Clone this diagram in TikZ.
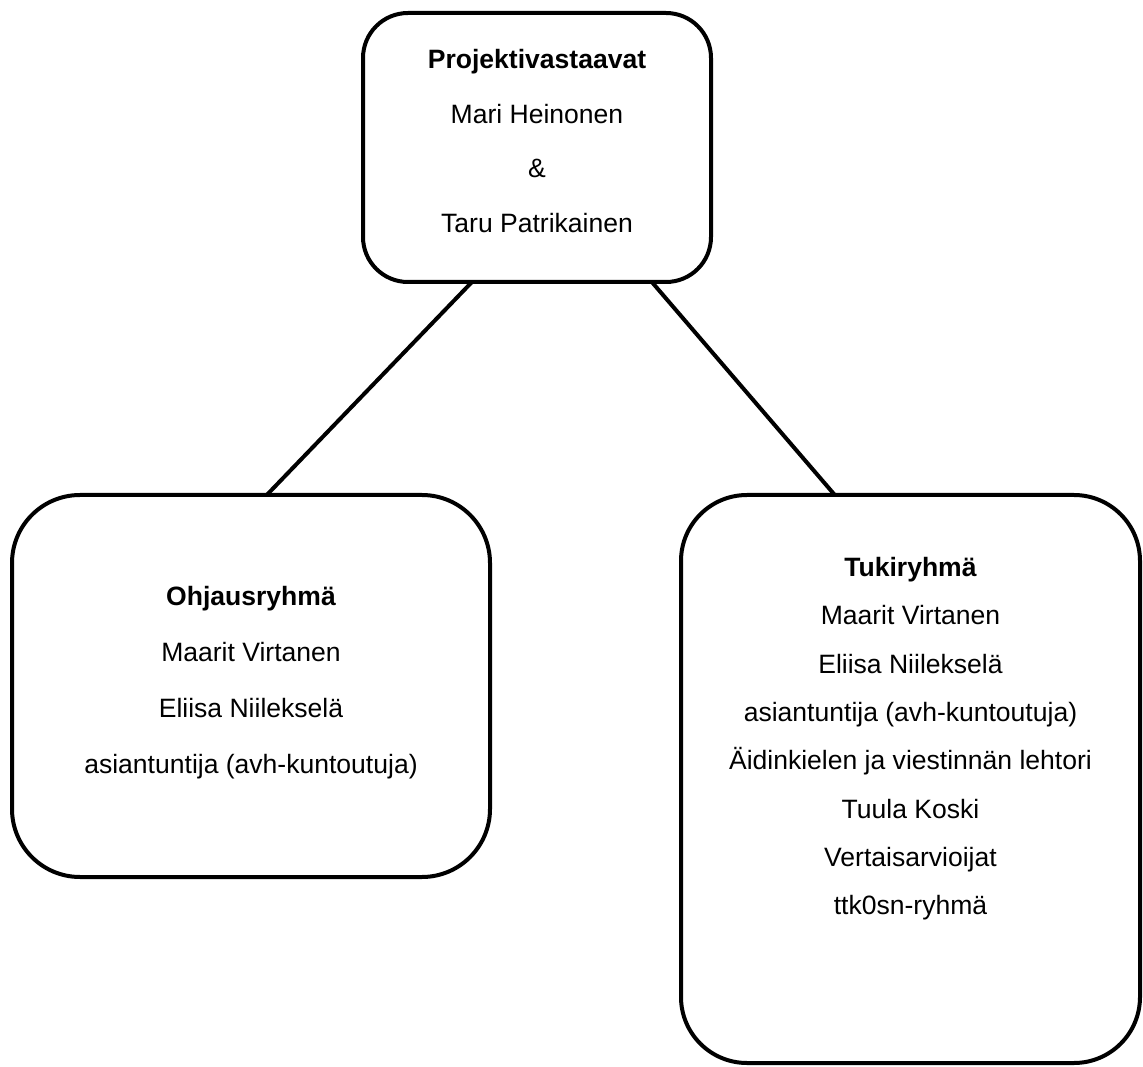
\documentclass[tikz,border=0pt]{standalone}
\usepackage{fontspec}
\setmainfont{Liberation Sans}
\usetikzlibrary{calc}
\tikzset{
	box/.style={draw, line width=0.08cm, rounded corners=#1, outer sep=0pt, inner sep=0pt},
	box/.default=0.9cm,
	names/.style={align=center, inner sep=0pt, anchor=north, font=\fontsize{15.1}{#1}\selectfont},
	link/.style={line width=0.08cm}
}

\begin{document}
\begin{tikzpicture}
	\useasboundingbox (0,0) rectangle (22.86,21.32);
	\node[box, minimum width=6.96cm, minimum height=5.38cm] (proj) at (10.74,18.37) {};
	\node[box=1.36cm, minimum width=9.56cm, minimum height=7.64cm] (ohj) at (5.02,7.60) {};
	\node[box=1.32cm, minimum width=9.18cm, minimum height=11.36cm] (tuki) at (18.21,5.74) {};
	\node[names=31pt] (projnimet) at (10.74,20.34) {\textbf{Projektivastaavat}\\Mari Heinonen\\\&\\Taru Patrikainen};
	\node[names=31.9pt] (ohjnimet) at (5.02,9.60) {\textbf{Ohjausryhmä}\\Maarit Virtanen\\Eliisa Niilekselä\\asiantuntija (avh-kuntoutuja)};
	\node[names=27.5pt] (tukinimet) at (18.21,10.18) {\textbf{Tukiryhmä}\\Maarit Virtanen\\Eliisa Niilekselä\\asiantuntija (avh-kuntoutuja)\\Äidinkielen ja viestinnän lehtori\\Tuula Koski\\Vertaisarvioijat\\ttk0sn-ryhmä};
	\draw[link] ($(proj.south west)!0.313!(proj.south east)$) -- ($(ohj.north west)!0.533!(ohj.north east)$);
	\draw[link] ($(proj.south west)!0.830!(proj.south east)$) -- ($(tuki.north west)!0.335!(tuki.north east)$);
\end{tikzpicture}
\end{document}
